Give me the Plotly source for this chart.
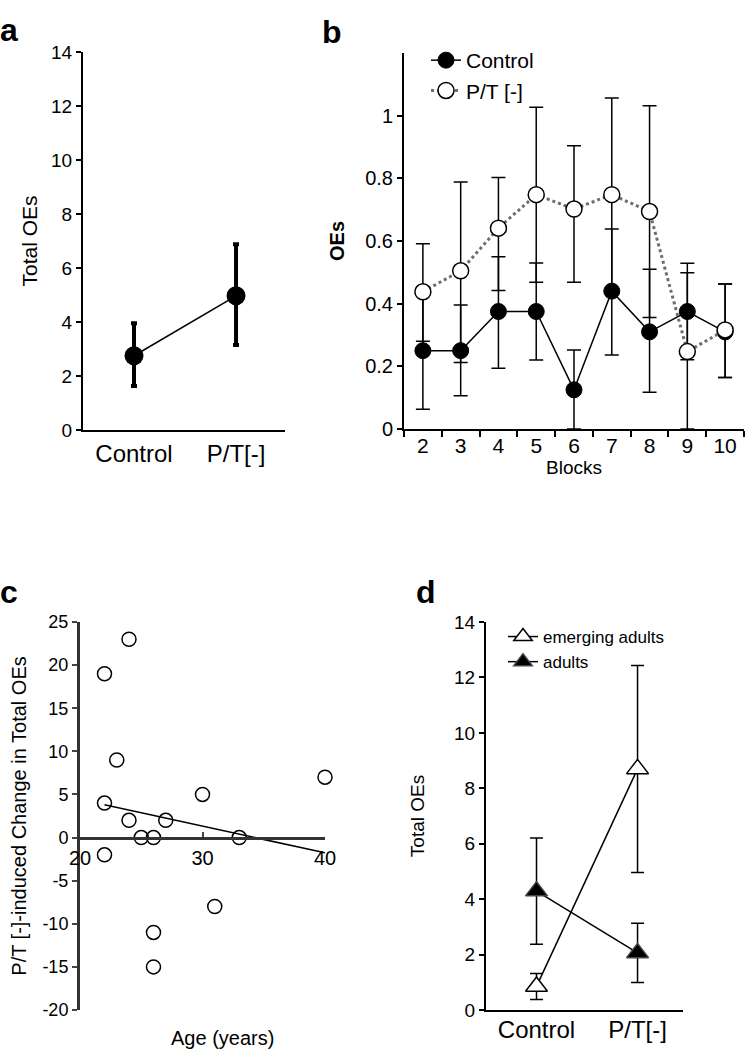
import numpy as np
import plotly.graph_objects as go

W, H = 745, 1050
FONT = "Liberation Sans, Arial, sans-serif"

# ---------------- data ----------------
# panel a
groups = ["Control", "P/T[-]"]
a_mean = [2.75, 4.97]
a_upper = [3.95, 6.88]
a_lower = [1.63, 3.15]

# panel b
blocks = [2, 3, 4, 5, 6, 7, 8, 9, 10]
b_ctrl_mean = [0.25, 0.25, 0.375, 0.375, 0.125, 0.44, 0.31, 0.375, 0.31]
b_ctrl_upper = [0.44, 0.396, 0.55, 0.53, 0.252, 0.638, 0.51, 0.529, 0.463]
b_ctrl_lower = [0.063, 0.106, 0.194, 0.22, 0.0, 0.236, 0.117, 0.221, 0.164]
b_pt_mean = [0.438, 0.505, 0.641, 0.748, 0.702, 0.748, 0.694, 0.247, 0.316]
b_pt_upper = [0.591, 0.788, 0.803, 1.027, 0.904, 1.056, 1.032, 0.499, 0.463]
b_pt_lower = [0.28, 0.212, 0.442, 0.468, 0.468, 0.44, 0.356, 0.0, 0.164]

# panel c
c_age = [22, 24, 23, 22, 24, 25, 26, 27, 30, 33, 40, 22, 31, 26, 26]
c_change = [19, 23, 9, 4, 2, 0, 0, 2, 5, 0, 7, -2, -8, -11, -15]

# panel d
d_emerg_mean = [0.85, 8.7]
d_emerg_upper = [1.32, 12.43]
d_emerg_lower = [0.38, 4.96]
d_adult_mean = [4.29, 2.06]
d_adult_upper = [6.21, 3.13]
d_adult_lower = [2.37, 0.99]

y_ticks_total = [0, 2, 4, 6, 8, 10, 12, 14]
b_y_ticks = [0, 0.2, 0.4, 0.6, 0.8, 1]
b_y_ticktext = ["0", "0.2", "0.4", "0.6", "0.8", "1"]
c_y_ticks = [-20, -15, -10, -5, 0, 5, 10, 15, 20, 25]
c_y_ticktext = ["-20", "-15", "-10", "-5", "0", "5", "10", "15", "20", "25"]
c_x_ticks = [20, 30, 40]


def err(mean, upper, lower):
    return ([u - m for u, m in zip(upper, mean)],
            [m - l for m, l in zip(mean, lower)])


def dx(p0, p1):
    return [p0 / W, p1 / W]


def dy(top, bottom):
    return [1 - bottom / H, 1 - top / H]


fig = go.Figure()

# ---------------- panel a ----------------
ep, em = err(a_mean, a_upper, a_lower)
fig.add_trace(go.Scatter(
    x=groups, y=a_mean, xaxis="x", yaxis="y", mode="lines+markers",
    line=dict(color="black", width=1.5),
    marker=dict(size=19, color="black"),
    error_y=dict(type="data", array=ep, arrayminus=em, symmetric=False,
                 color="black", thickness=4, width=3),
    showlegend=False, cliponaxis=False))

# ---------------- panel b ----------------
bx = [str(b) for b in blocks]
ep, em = err(b_ctrl_mean, b_ctrl_upper, b_ctrl_lower)
fig.add_trace(go.Scatter(
    x=bx, y=b_ctrl_mean, xaxis="x2", yaxis="y2", mode="lines+markers",
    name="Control", legend="legend",
    line=dict(color="black", width=1.5),
    marker=dict(size=16, color="black", line=dict(color="black", width=1)),
    error_y=dict(type="data", array=ep, arrayminus=em, symmetric=False,
                 color="black", thickness=1.5, width=7),
    cliponaxis=False))
ep, em = err(b_pt_mean, b_pt_upper, b_pt_lower)
fig.add_trace(go.Scatter(
    x=bx, y=b_pt_mean, xaxis="x2", yaxis="y2", mode="lines+markers",
    name="P/T [-]", legend="legend",
    line=dict(color="#6e6e6e", width=3, dash="dot"),
    marker=dict(size=16, color="white", line=dict(color="black", width=1.5)),
    error_y=dict(type="data", array=ep, arrayminus=em, symmetric=False,
                 color="black", thickness=1.5, width=7),
    cliponaxis=False))

# ---------------- panel c ----------------
slope, intercept = np.polyfit(c_age, c_change, 1)
fx = np.array([min(c_age), max(c_age)])
fig.add_trace(go.Scatter(
    x=fx, y=slope * fx + intercept, xaxis="x3", yaxis="y3", mode="lines",
    line=dict(color="black", width=1.5), showlegend=False, cliponaxis=False))
fig.add_trace(go.Scatter(
    x=c_age, y=c_change, xaxis="x3", yaxis="y3", mode="markers",
    marker=dict(size=14, color="rgba(255,255,255,0)", line=dict(color="black", width=1.5)),
    showlegend=False, cliponaxis=False))

# ---------------- panel d ----------------
ep, em = err(d_emerg_mean, d_emerg_upper, d_emerg_lower)
fig.add_trace(go.Scatter(
    x=groups, y=d_emerg_mean, xaxis="x4", yaxis="y4", mode="lines+markers",
    name="emerging adults", legend="legend2",
    line=dict(color="black", width=1.5),
    marker=dict(symbol="triangle-up", size=19, color="white",
                line=dict(color="black", width=1.5)),
    error_y=dict(type="data", array=ep, arrayminus=em, symmetric=False,
                 color="black", thickness=1.5, width=6.5),
    cliponaxis=False))
ep, em = err(d_adult_mean, d_adult_upper, d_adult_lower)
fig.add_trace(go.Scatter(
    x=groups, y=d_adult_mean, xaxis="x4", yaxis="y4", mode="lines+markers",
    name="adults", legend="legend2",
    line=dict(color="black", width=1.5),
    marker=dict(symbol="triangle-up", size=19, color="black",
                line=dict(color="#444444", width=1.5)),
    error_y=dict(type="data", array=ep, arrayminus=em, symmetric=False,
                 color="black", thickness=1.5, width=6.5),
    cliponaxis=False))

# ---------------- axes ----------------
axis_common = dict(showgrid=False, zeroline=False, showline=True,
                   linecolor="black", linewidth=2, color="black",
                   automargin=False)

c_dom_y = dy(622, 1010)
c_yr = [-20, 25]
c_zero_pos = c_dom_y[0] + (0 - c_yr[0]) / (c_yr[1] - c_yr[0]) * (c_dom_y[1] - c_dom_y[0])

fig.update_layout(
    template="none",
    width=W, height=H,
    margin=dict(l=0, r=0, t=0, b=0, pad=0),
    paper_bgcolor="white", plot_bgcolor="rgba(0,0,0,0)",
    font=dict(family=FONT, color="black", size=18),
    # panel a
    xaxis=dict(domain=dx(83, 285), anchor="y", type="category",
               range=[-0.5, 1.48], ticks="", tickfont=dict(size=24),
               ticklabelstandoff=1, **axis_common),
    yaxis=dict(domain=dy(52, 430), anchor="x", range=[0, 14],
               tickvals=y_ticks_total, ticks="outside", ticklen=5, tickwidth=2,
               tickfont=dict(size=19),
               title=dict(text="Total OEs", font=dict(size=21), standoff=8),
               **axis_common),
    # panel b
    xaxis2=dict(domain=dx(404, 744), anchor="y2", type="category",
                range=[-0.5, 8.5], ticks="outside", tickson="boundaries",
                ticklen=6, tickwidth=2, tickfont=dict(size=21),
                ticklabelstandoff=-3,
                title=dict(text="Blocks", font=dict(size=19), standoff=0),
                **axis_common),
    yaxis2=dict(domain=dy(53, 429), anchor="x2", range=[0, 1.2],
                tickvals=b_y_ticks, ticktext=b_y_ticktext,
                ticks="outside", ticklen=5, tickwidth=2, tickfont=dict(size=20),
                title=dict(text="<b>OEs</b>", font=dict(size=20), standoff=15),
                **axis_common),
    # panel c
    xaxis3=dict(domain=dx(80, 325), anchor="free", position=c_zero_pos,
                range=[20, 40], tickvals=c_x_ticks, ticks="inside",
                ticklen=5, tickwidth=2, tickfont=dict(size=20),
                ticklabelstandoff=2,
                showgrid=False, zeroline=False, showline=True,
                linecolor="#333333", linewidth=2.5, automargin=False),
    yaxis3=dict(domain=c_dom_y, anchor="x3", range=c_yr,
                tickvals=c_y_ticks, ticktext=c_y_ticktext,
                ticks="outside", ticklen=5, tickwidth=2,
                tickfont=dict(size=18),
                title=dict(text="P/T [-]-induced Change in Total OEs",
                           font=dict(size=20), standoff=11),
                showgrid=False, zeroline=False, showline=True,
                linecolor="#333333", linewidth=3, automargin=False),
    # panel d
    xaxis4=dict(domain=dx(486, 683), anchor="y4", type="category",
                range=[-0.5, 1.45], ticks="", tickfont=dict(size=24),
                ticklabelstandoff=-3, **axis_common),
    yaxis4=dict(domain=dy(622, 1010), anchor="x4", range=[0, 14],
                tickvals=y_ticks_total, ticks="outside", ticklen=5, tickwidth=2,
                tickfont=dict(size=19),
                title=dict(text="Total OEs", font=dict(size=19), standoff=24),
                **axis_common),
    legend=dict(x=426 / W, y=1 - 40 / H, xanchor="left", yanchor="top",
                bgcolor="rgba(0,0,0,0)", font=dict(size=21), tracegroupgap=0,
                itemsizing="trace"),
    legend2=dict(x=503 / W, y=1 - 619 / H, xanchor="left", yanchor="top",
                 bgcolor="rgba(0,0,0,0)", font=dict(size=17), tracegroupgap=0,
                 itemsizing="trace"),
)

# panel letters and the c x-axis title
for txt, px, py in [("a", -2, 42), ("b", 320, 44), ("c", -2, 604), ("d", 414, 604)]:
    fig.add_annotation(text="<b>%s</b>" % txt, x=px / W, y=1 - py / H,
                       xref="paper", yref="paper", xanchor="left", yanchor="bottom",
                       showarrow=False, font=dict(size=32, family=FONT), yshift=-8)
fig.add_annotation(text="Age (years)", x=222 / W, y=1 - 1038 / H, xref="paper",
                   yref="paper", xanchor="center", yanchor="middle",
                   showarrow=False, font=dict(size=20, family=FONT))

fig.write_html("out.html", config={"displayModeBar": False},
               post_script="document.body.style.margin='0';document.body.style.padding='0';")
